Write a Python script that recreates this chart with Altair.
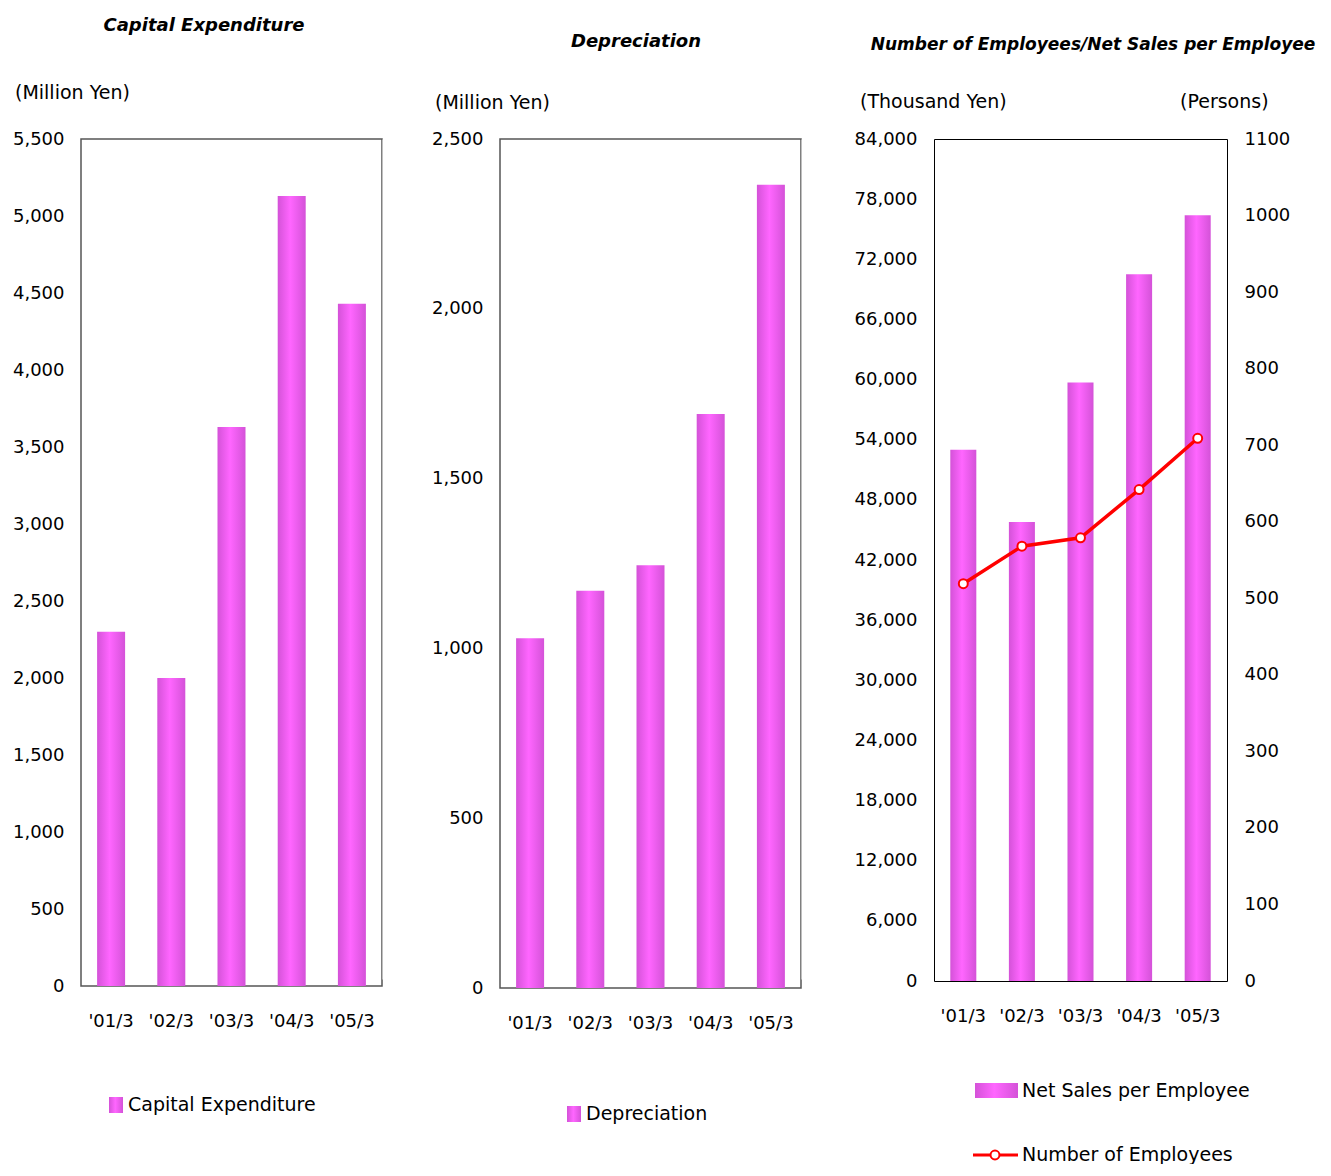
import altair as alt
import pandas as pd

periods = ["'01/3", "'02/3", "'03/3", "'04/3", "'05/3"]
capex = [2300, 2000, 3630, 5130, 4430]
depreciation = [1030, 1170, 1245, 1690, 2365]
sales_per_emp = [53000, 45800, 59700, 70500, 76400]
employees = [519, 568, 579, 642, 709]

capex_ticks = [0, 500, 1000, 1500, 2000, 2500, 3000, 3500, 4000, 4500, 5000, 5500]
dep_ticks = [0, 500, 1000, 1500, 2000, 2500]
sales_ticks = [0, 6000, 12000, 18000, 24000, 30000, 36000, 42000, 48000, 54000,
               60000, 66000, 72000, 78000, 84000]
emp_ticks = [0, 100, 200, 300, 400, 500, 600, 700, 800, 900, 1000, 1100]

FONT = "DejaVu Sans"

df1 = pd.DataFrame({"period": periods, "value": capex})
df2 = pd.DataFrame({"period": periods, "value": depreciation})
df3 = pd.DataFrame({"period": periods, "sales": sales_per_emp, "emp": employees})
one = pd.DataFrame({"k": [0]})

grad = alt.LinearGradient(
    gradient="linear",
    stops=[alt.GradientStop(color="#D452D8", offset=0),
           alt.GradientStop(color="#FF66FF", offset=0.45),
           alt.GradientStop(color="#D452D8", offset=1)],
    x1=0, x2=1, y1=0, y2=0)


def xenc(pi, po):
    return alt.X("period:N", sort=periods,
                 scale=alt.Scale(paddingInner=pi, paddingOuter=po),
                 axis=alt.Axis(title=None, labelAngle=0, ticks=False, tickSize=0,
                               domain=False, grid=False, labelFontSize=18,
                               labelFont=FONT, labelColor="black", labelPadding=26))


def yaxis(ticks, fmt, orient="left"):
    return alt.Axis(title=None, values=ticks, format=fmt, ticks=False, tickSize=0,
                    domain=False, grid=False, labelFontSize=18, labelFont=FONT,
                    labelColor="black", labelPadding=17, orient=orient)


def txt(text, x, y, size=19, bold=False, italic=False, align="left"):
    return alt.Chart(one).mark_text(
        text=text, align=align, baseline="middle", font=FONT, fontSize=size,
        fontWeight="bold" if bold else "normal",
        fontStyle="italic" if italic else "normal", color="black"
    ).encode(x=alt.value(x), y=alt.value(y))


def swatch(x1, x2, y1, y2):
    return alt.Chart(one).mark_rect(fill=grad).encode(
        x=alt.value(x1), x2=alt.value(x2), y=alt.value(y1), y2=alt.value(y2))


# Panel 1
bars1 = alt.Chart(df1).mark_bar(fill=grad).encode(
    x=xenc(0.535, 0.2675),
    y=alt.Y("value:Q", scale=alt.Scale(domain=[0, 5500], nice=False),
            axis=yaxis(capex_ticks, ",d")))
p1 = alt.layer(
    bars1,
    txt("Capital Expenditure", 123, -113, size=18, bold=True, italic=True, align="center"),
    txt("(Million Yen)", -66, -46),
    swatch(28, 42, 958, 974),
    txt("Capital Expenditure", 47, 966),
).properties(width=301, height=847,
             view=alt.ViewBackground(stroke="#555555", strokeWidth=1.5))

# Panel 2
bars2 = alt.Chart(df2).mark_bar(fill=grad).encode(
    x=xenc(0.535, 0.2675),
    y=alt.Y("value:Q", scale=alt.Scale(domain=[0, 2500], nice=False),
            axis=yaxis(dep_ticks, ",d")))
p2 = alt.layer(
    bars2,
    txt("Depreciation", 136, -97, size=18, bold=True, italic=True, align="center"),
    txt("(Million Yen)", -65, -36),
    swatch(67, 81, 967, 983),
    txt("Depreciation", 86, 975),
).properties(width=301, height=849,
             view=alt.ViewBackground(stroke="#555555", strokeWidth=1.5))

# Panel 3
bars3 = alt.Chart(df3).mark_bar(fill=grad).encode(
    x=xenc(0.556, 0.278),
    y=alt.Y("sales:Q", scale=alt.Scale(domain=[0, 84000], nice=False),
            axis=yaxis(sales_ticks, ",d")))
line3 = alt.Chart(df3).mark_line(
    color="#FF0000", strokeWidth=3.5,
    point=alt.OverlayMarkDef(filled=True, fill="white", stroke="#FF0000",
                             strokeWidth=2, size=80, opacity=1)
).encode(
    x=xenc(0.556, 0.278),
    y=alt.Y("emp:Q", scale=alt.Scale(domain=[0, 1100], nice=False),
            axis=yaxis(emp_ticks, "d", orient="right")))
p3_main = alt.layer(bars3, line3).resolve_scale(y="independent")
p3 = alt.layer(
    p3_main,
    txt("Number of Employees/Net Sales per Employee", 159, -94, size=17,
        bold=True, italic=True, align="center"),
    txt("(Thousand Yen)", -74, -37),
    txt("(Persons)", 246, -37),
    swatch(41, 84, 944, 959),
    txt("Net Sales per Employee", 88, 952),
    alt.Chart(one).mark_rule(color="#FF0000", strokeWidth=3).encode(
        x=alt.value(39), x2=alt.value(84), y=alt.value(1016)),
    alt.Chart(one).mark_point(filled=True, fill="white", stroke="#FF0000",
                              strokeWidth=2, size=80, opacity=1).encode(
        x=alt.value(61), y=alt.value(1016)),
    txt("Number of Employees", 88, 1016),
).resolve_scale(y="independent").properties(
    width=293, height=842,
    view=alt.ViewBackground(stroke="#000000", strokeWidth=1))


def spacer(w):
    return alt.Chart(one).mark_point(opacity=0).encode(
        x=alt.value(0), y=alt.value(0)).properties(
        width=w, height=840, view=alt.ViewBackground(stroke="transparent"))


chart = alt.hconcat(p1, spacer(118), p2, spacer(133), p3,
                    spacing=0, bounds="flush").properties(
    padding={"left": 73, "top": 131, "right": 1242, "bottom": 1025},
    autosize=alt.AutoSizeParams(type="none"),
    background="white"
).configure_view(fill="white")

chart.save("out.html", embed_options={"renderer": "svg", "actions": False})
